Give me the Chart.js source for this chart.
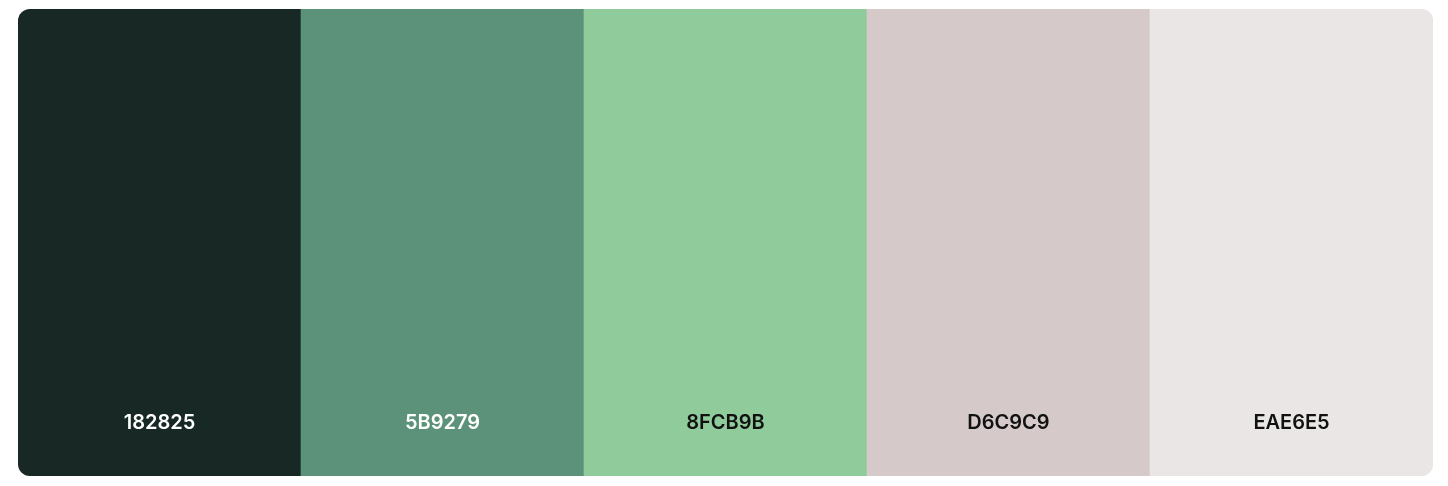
<!DOCTYPE html>
<html><head><meta charset="utf-8">
<script src="https://cdn.jsdelivr.net/npm/chart.js@4"></script>
<style>
html,body{margin:0;padding:0;background:#fff;}
#wrap{position:absolute;left:18px;top:9px;width:1415px;height:467px;border-radius:12px;overflow:hidden;box-shadow:inset 0 0 0 1px #ddd;}
canvas{display:block;}
</style></head><body>
<div id="wrap"><canvas id="c"></canvas></div>
<script>
const categories = ["182825","5B9279","8FCB9B","D6C9C9","EAE6E5"];
const values = [1,1,1,1,1];
const colors = ["#182825","#5B9279","#8FCB9B","#D6C9C9","#EAE6E5"];
const textColors = ["#ffffff","#ffffff","#111111","#111111","#111111"];

const labelPlugin = {
  id:'lbl',
  afterDatasetsDraw(chart){
    const ctx = chart.ctx;
    const meta = chart.getDatasetMeta(0);
    ctx.save();
    ctx.font = "600 20px Inter, 'Noto Sans', sans-serif";
    ctx.textAlign = 'center';
    ctx.textBaseline = 'middle';
    meta.data.forEach((el,i)=>{
      ctx.fillStyle = textColors[i];
      ctx.fillText(categories[i], el.x, 414);
    });
    ctx.restore();
  }
};

new Chart(document.getElementById('c'), {
  type:'bar',
  data:{labels:categories, datasets:[{data:values, backgroundColor:colors, borderWidth:0, categoryPercentage:1, barPercentage:1}]},
  options:{
    responsive:true, maintainAspectRatio:false, animation:false,
    layout:{padding:0},
    plugins:{legend:{display:false}, tooltip:{enabled:false}},
    scales:{
      x:{display:false, offset:true},
      y:{display:false, min:0, max:1}
    }
  },
  plugins:[labelPlugin]
});
</script>
</body></html>
